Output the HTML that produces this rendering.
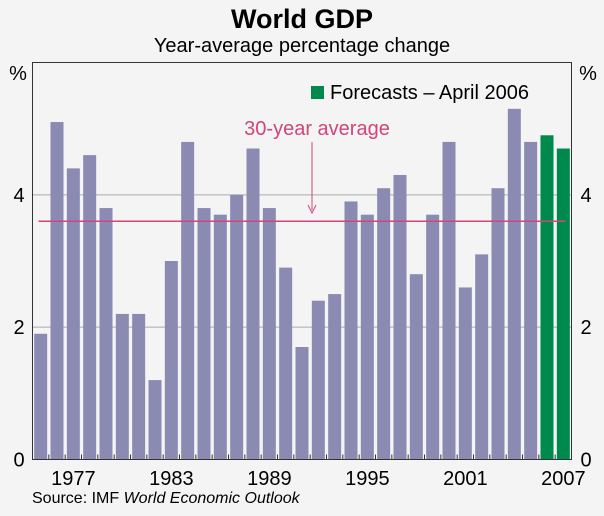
<!DOCTYPE html>
<html><head><meta charset="utf-8"><style>
body{margin:0;background:#f4f4f4;}
svg{display:block;font-family:"Liberation Sans",sans-serif;}
</style></head><body>
<svg id="c" width="604" height="516">
<rect width="604" height="516" fill="#f4f4f4"/>
<text x="302" y="28" text-anchor="middle" font-size="27" font-weight="bold">World GDP</text>
<text x="302" y="52" text-anchor="middle" font-size="20">Year-average percentage change</text>
<text x="18" y="80" text-anchor="middle" font-size="20">%</text>
<text x="588" y="80" text-anchor="middle" font-size="20">%</text>
<g id="grid"></g><g id="bars"></g><g id="ticks"></g>
<rect x="311" y="86" width="13" height="13" fill="#00894d"/>
<text x="330" y="99" font-size="20">Forecasts – April 2006</text>
<text x="317" y="135" text-anchor="middle" font-size="20" fill="#d0457a">30-year average</text>
<line x1="312" y1="142" x2="312" y2="210" stroke="#d0457a" stroke-width="1"/>
<path d="M308,205 L312,213 L316,205" fill="none" stroke="#d0457a"/>
<line id="avg" stroke="#d0457a" stroke-width="1.5"/>
<rect x="32.5" y="62.5" width="539" height="397" fill="none" stroke="#333"/>
<text x="32" y="503" font-size="16">Source: IMF <tspan font-style="italic">World Economic Outlook</tspan></text>
</svg>
<script>
const years=[1975,1976,1977,1978,1979,1980,1981,1982,1983,1984,1985,1986,1987,1988,1989,1990,1991,1992,1993,1994,1995,1996,1997,1998,1999,2000,2001,2002,2003,2004,2005,2006,2007];
const values=[1.9,5.1,4.4,4.6,3.8,2.2,2.2,1.2,3.0,4.8,3.8,3.7,4.0,4.7,3.8,2.9,1.7,2.4,2.5,3.9,3.7,4.1,4.3,2.8,3.7,4.8,2.6,3.1,4.1,5.3,4.8,4.9,4.7];
const forecastYears=[2006,2007];
const average=3.6;
const yTicks=[0,2,4];
const xLabels=[1977,1983,1989,1995,2001,2007];
const NS="http://www.w3.org/2000/svg";
const L=32.5,R=571.5,T=62.5,B=459.5,ymax=6;
const slot=(R-L)/years.length;
const y=v=>B-(v/ymax)*(B-T);
const xc=i=>L+slot*(i+0.5);
function mk(t,a,p){const e=document.createElementNS(NS,t);for(const k in a)e.setAttribute(k,a[k]);document.getElementById(p).appendChild(e);return e;}
yTicks.forEach(v=>{
 if(v>0){const g=mk('line',{x1:L,x2:R,y1:y(v),y2:y(v),stroke:'#aaa'},'grid');
 
 }
 const a=mk('text',{x:19,y:y(v)+7,'text-anchor':'middle','font-size':20},'ticks');a.textContent=v;
 
 
 const b=mk('text',{x:586,y:y(v)+7,'text-anchor':'middle','font-size':20},'ticks');b.textContent=v;
 
 
});
years.forEach((yr,i)=>{
 const f=forecastYears.includes(yr);
 const r=mk('rect',{x:xc(i)-6.5,width:13,y:y(values[i]),height:B-y(values[i]),fill:f?'#00894d':'#8a8ab2'},'bars');
 
 
 if(i>0){const t=mk('line',{x1:L+slot*i,x2:L+slot*i,y1:B,y2:B-5,stroke:'#333'},'ticks');
 
 }
});
xLabels.forEach(yr=>{
 const i=years.indexOf(yr);
 const t=mk('text',{x:xc(i),y:485,'text-anchor':'middle','font-size':20},'ticks');t.textContent=yr;
 
 
});
const a=document.getElementById('avg');
a.setAttribute('x1',L+6);a.setAttribute('x2',R-6);a.setAttribute('y1',y(average));a.setAttribute('y2',y(average));
</script>
</body></html>
